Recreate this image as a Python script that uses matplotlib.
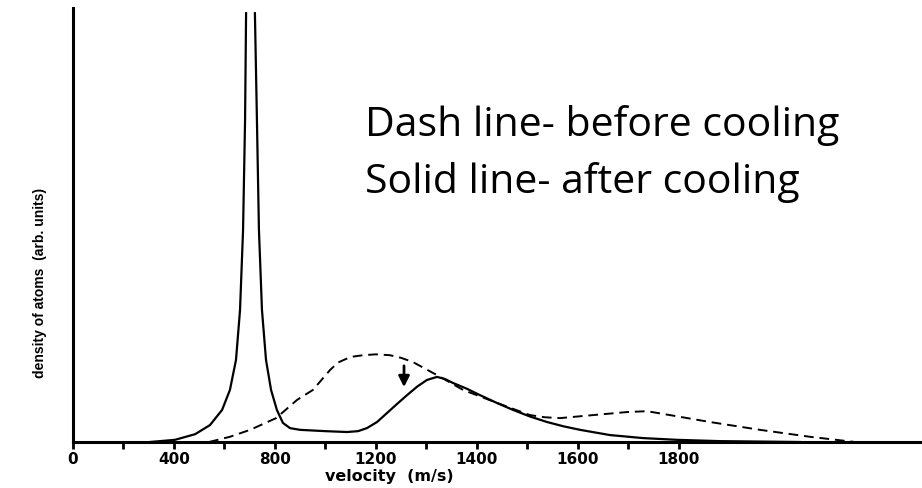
import numpy as np
import matplotlib
matplotlib.use("Agg")
import matplotlib.pyplot as plt
from matplotlib import font_manager


# velocity axis is in "position" units; the printed tick labels are odd in the source figure
TICK_POS = list(range(0, 2600, 200))
LABEL_POS = [0, 400, 800, 1200, 1600, 2000, 2400]
LABEL_TEXT = ["0", "400", "800", "1200", "1400", "1600", "1800"]

# solid line - after cooling (narrow peak is cut off at the top)
after_v = [305, 404, 484, 543, 591, 622, 646, 662, 674, 682, 686, np.nan,
           721, 729, 737, 749, 765, 785, 808, 832, 860, 900, 1000, 1086,
           1130, 1165, 1205, 1245, 1285, 1324, 1365, 1403, 1443, 1475, 1506,
           1560, 1613, 1680, 1744, 1810, 1879, 1945, 2010,
           2128, 2259, 2394, 2564, 2881]
after_d = [0, 0.5, 1.8, 3.9, 7.4, 12.0, 18.9, 30.4, 48.8, 74.2, 98.8, np.nan,
           98.8, 74.2, 48.8, 30.4, 18.9, 12.0, 7.4, 4.4, 3.2, 2.8, 2.5, 2.3,
           2.5, 3.2, 4.6, 6.7, 8.8, 10.8, 12.8, 14.3, 15.0, 14.5, 13.6,
           12.3, 10.8, 9.0, 7.4, 5.9, 4.6, 3.6, 2.8,
           1.6, 0.9, 0.5, 0.2, 0]

# dashed line - before cooling
before_v = [539, 622, 702, 805, 888, 951, 1019, 1050, 1100, 1150, 1200, 1256,
            1300, 1348, 1443, 1546, 1681, 1811, 1870, 1930, 2061, 2196, 2275,
            2366, 2525, 2723, 2921, 3099]
before_d = [0, 1.2, 2.8, 5.5, 9.7, 12.0, 16.6, 18.3, 19.6, 20.0, 20.2, 20.0,
            19.4, 18.4, 15.4, 12.0, 9.0, 6.2, 5.7, 5.5, 6.2, 6.9, 7.1,
            6.2, 4.6, 2.8, 1.2, 0]

ARROW_V = 1312
ARROW_FROM = 18.2
ARROW_TO = 12.0

W, H = 922, 488

names = {f.name for f in font_manager.fontManager.ttflist}
if "Liberation Sans Narrow" in names:
    ylab_font = dict(family="Liberation Sans Narrow", size=11.5)
else:
    ylab_font = dict(family="Liberation Sans", size=10)

fig = plt.figure(figsize=(W / 100, H / 100), dpi=100)
ax = fig.add_axes([73 / W, 1 - 442 / H, (W - 73) / W, (442 - 8) / H])

ax.plot(after_v, after_d, color="black", lw=1.6, solid_joinstyle="round")
ax.plot(before_v, before_d, color="black", lw=1.4, linestyle=(0, (5, 3)))

ax.annotate("", xy=(ARROW_V, ARROW_TO), xytext=(ARROW_V, ARROW_FROM),
            arrowprops=dict(arrowstyle="-|>", color="black", lw=2,
                            mutation_scale=16))

ax.set_xlim(0, (W - 73) / 0.2523)
ax.set_ylim(0, 100)

ax.spines["top"].set_visible(False)
ax.spines["right"].set_visible(False)
ax.spines["left"].set_linewidth(2.2)
ax.spines["bottom"].set_linewidth(2.2)

ax.set_yticks([])
ax.set_xticks(TICK_POS, minor=True)
ax.set_xticks(LABEL_POS)
ax.set_xticklabels(LABEL_TEXT, fontweight="bold", fontsize=11)
ax.tick_params(axis="x", which="both", direction="out", length=5, width=2, pad=2)

fig.text(389 / W, 1 - 476 / H, "velocity  (m/s)", ha="center", va="center",
         fontweight="bold", fontsize=11.5)
fig.text(40 / W, 1 - 283 / H, "density of atoms  (arb. units)", rotation=90,
         ha="center", va="center", fontweight="bold", **ylab_font)

fig.text(365 / W, 1 - 136 / H, "Dash line- before cooling", family="Open Sans",
         fontsize=29.5, va="baseline", ha="left")
fig.text(365 / W, 1 - 193 / H, "Solid line- after cooling", family="Open Sans",
         fontsize=29.5, va="baseline", ha="left")

fig.savefig("out.png", dpi=100)
